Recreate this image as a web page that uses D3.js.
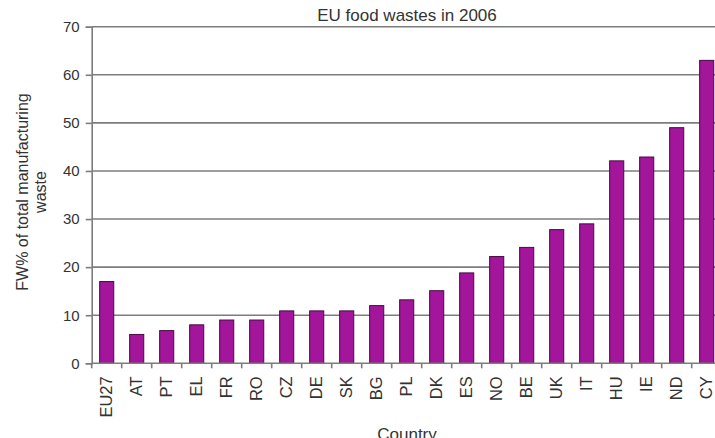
<!DOCTYPE html>
<html>
<head>
<meta charset="utf-8">
<script src="https://cdn.jsdelivr.net/npm/d3@7"></script>
<style>
  body { margin: 0; background: #fff; }
  svg text { font-family: "Liberation Sans", Arial, sans-serif; fill: #333; }
</style>
</head>
<body>
<svg id="chart" width="715" height="438"></svg>
<script>
var countries = ['EU27', 'AT', 'PT', 'EL', 'FR', 'RO', 'CZ', 'DE', 'SK', 'BG', 'PL',
    'DK', 'ES', 'NO', 'BE', 'UK', 'IT', 'HU', 'IE', 'ND', 'CY'];
var foodWaste = [17, 6, 6.8, 8, 9, 9, 10.9, 10.9, 10.9, 12, 13.2,
    15.1, 18.8, 22.2, 24.1, 27.8, 29, 42.1, 42.9, 49, 63];
var yTicks = [0, 10, 20, 30, 40, 50, 60, 70];

var svg = d3.select('#chart');

// plot area runs past the right edge like in the original
var plotLeft = 91.7, plotRight = 721.7, plotTop = 26.7, plotBottom = 363.3;

var x = d3.scaleBand().domain(countries).range([plotLeft, plotRight])
    .paddingInner(0.53).paddingOuter(0.265);
var y = d3.scaleLinear().domain([0, 70]).range([plotBottom, plotTop]);

// grid
svg.append('g').selectAll('line').data(yTicks.slice(1)).enter().append('line')
    .attr('x1', plotLeft).attr('x2', 715)
    .attr('y1', d => y(d)).attr('y2', d => y(d))
    .attr('stroke', '#7d7d7d').attr('stroke-width', 1.6);

// bars
svg.append('g').selectAll('rect').data(foodWaste).enter().append('rect')
    .attr('x', (d, i) => x(countries[i]))
    .attr('y', d => y(d))
    .attr('width', x.bandwidth())
    .attr('height', d => plotBottom - y(d))
    .attr('fill', '#a3159b')
    .attr('stroke', '#4a0a45').attr('stroke-width', 1);

// y axis
let yAxis = svg.append('g').attr('transform', `translate(${plotLeft},0)`)
    .call(d3.axisLeft(y).tickValues(yTicks).tickSize(6).tickPadding(6));
yAxis.select('.domain').attr('stroke', '#7d7d7d').attr('stroke-width', 1.6);
yAxis.selectAll('.tick line').attr('stroke', '#7d7d7d').attr('stroke-width', 1.6);
yAxis.selectAll('.tick text').style('font-size', '15px').attr('fill', '#444');

// x axis: ticks between the categories
let step = x.step();
let bounds = d3.range(countries.length + 1).map(i => plotLeft + i * step);
let xAxis = svg.append('g');
xAxis.append('line').attr('x1', plotLeft).attr('x2', 715)
    .attr('y1', plotBottom).attr('y2', plotBottom)
    .attr('stroke', '#7d7d7d').attr('stroke-width', 1.6);
xAxis.selectAll('.xt').data(bounds).enter().append('line').attr('class', 'xt')
    .attr('x1', d => d).attr('x2', d => d)
    .attr('y1', plotBottom).attr('y2', plotBottom + 5)
    .attr('stroke', '#7d7d7d').attr('stroke-width', 1.6);
xAxis.selectAll('text').data(countries).enter().append('text')
    .attr('transform', d => `translate(${x(d) + x.bandwidth() / 2 + 5.5},${plotBottom + 13}) rotate(-90)`)
    .attr('text-anchor', 'end')
    .style('font-size', '16.5px').attr('fill', '#444')
    .text(d => d);

// titles
svg.append('text').attr('x', 407).attr('y', 21).attr('text-anchor', 'middle')
    .style('font-size', '17px').text('EU food wastes in 2006');

svg.append('text').attr('x', 407).attr('y', 440).attr('text-anchor', 'middle')
    .style('font-size', '17px').text('Country');

let yLab = svg.append('text').attr('transform', 'translate(28,192) rotate(-90)')
    .attr('text-anchor', 'middle').style('font-size', '16px');
yLab.append('tspan').attr('x', 0).attr('dy', 0).text('FW% of total manufacturing');
yLab.append('tspan').attr('x', 0).attr('dy', 18).text('waste');
</script>
</body>
</html>
